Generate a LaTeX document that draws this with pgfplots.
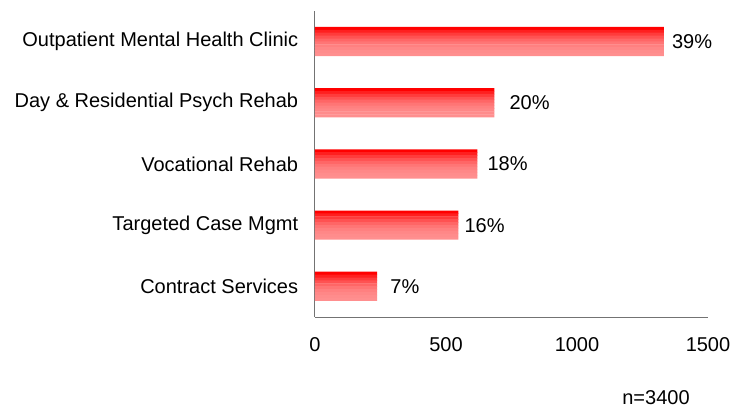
\documentclass[border=0pt]{standalone}
\usepackage{fontspec}
\setmainfont{Liberation Sans}
\usepackage{pgfplots}
\pgfplotsset{compat=1.18}
\usepackage{pgfplotstable}
\pgfplotstableread{
y val
0 237
1 547
2 620
3 685
4 1332
}\bars
\pgfplotstableread{
y lx lab
0 287 7\%
1 570 16\%
2 658 18\%
3 742 20\%
4 1362 39\%
}\labs
\begin{document}
\fontsize{20}{24}\selectfont
\begin{tikzpicture}
\useasboundingbox (-315pt,-91pt) rectangle (419pt,317pt);
\begin{axis}[
  at={(0,0)}, anchor=south west,
  scale only axis,
  width=393pt, height=306pt,
  xmin=0, xmax=1500, ymin=-0.5, ymax=4.5,
  xtick={0,500,1000,1500},
  ytick={0,1,2,3,4},
  yticklabels={Contract Services,Targeted Case Mgmt,Vocational Rehab,Day \& Residential Psych Rehab,Outpatient Mental Health Clinic},
  axis lines*=left,
  axis line style={draw=black!55, line width=1pt},
  major tick length=0pt,
  tick label style={font=\fontsize{20}{24}\selectfont},
  xticklabel style={yshift=-14pt},
  yticklabel style={xshift=-10pt},
  /pgf/number format/assume math mode=true,
  /pgf/number format/1000 sep={},
  clip=false,
  strip/.style={xbar, bar width=3.3pt, draw=none, mark=none},
]
\addplot[strip, bar shift=13.05pt, fill=red!100] table[x=val, y=y] {\bars};
\addplot[strip, bar shift=10.15pt, fill=red!88] table[x=val, y=y] {\bars};
\addplot[strip, bar shift=7.25pt, fill=red!77] table[x=val, y=y] {\bars};
\addplot[strip, bar shift=4.35pt, fill=red!68] table[x=val, y=y] {\bars};
\addplot[strip, bar shift=1.45pt, fill=red!60] table[x=val, y=y] {\bars};
\addplot[strip, bar shift=-1.45pt, fill=red!54] table[x=val, y=y] {\bars};
\addplot[strip, bar shift=-4.35pt, fill=red!50] table[x=val, y=y] {\bars};
\addplot[strip, bar shift=-7.25pt, fill=red!47] table[x=val, y=y] {\bars};
\addplot[strip, bar shift=-10.15pt, fill=red!45] table[x=val, y=y] {\bars};
\addplot[xbar, bar width=2.9pt, draw=none, mark=none, bar shift=-13.05pt, fill=red!44] table[x=val, y=y] {\bars};
\addplot[only marks, mark=none, nodes near coords, point meta=explicit symbolic,
  nodes near coords style={anchor=west, inner sep=0pt, font=\fontsize{20}{24}\selectfont}]
  table[x=lx, y=y, meta=lab] {\labs};
\end{axis}
\node[font=\fontsize{20}{24}\selectfont] at (341pt,-81pt) {n=3400};
\end{tikzpicture}
\end{document}
